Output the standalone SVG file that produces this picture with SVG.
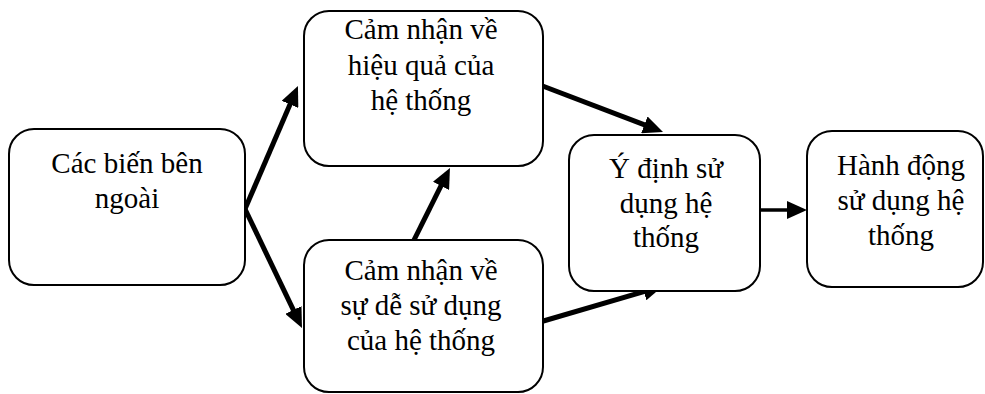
<svg xmlns="http://www.w3.org/2000/svg" width="985" height="394" viewBox="0 0 985 394">
<defs>
<style>
.box{fill:#fff;stroke:#000;stroke-width:2}
.c{stroke:#000;stroke-width:5;fill:none}
.c2{stroke:#000;stroke-width:3.5;fill:none}
</style>
<marker id="ah" markerUnits="userSpaceOnUse" markerWidth="20" markerHeight="18" viewBox="0 0 20 18" refX="8" refY="9" orient="auto">
<path d="M0,0 L20,9 L0,18 z" fill="#000"/>
</marker>
</defs>
<rect width="985" height="394" fill="#fff"/>
<g id="connectors">
<line class="c" marker-end="url(#ah)" x1="245" y1="209" x2="293.2" y2="97.0"/>
<line class="c" marker-end="url(#ah)" x1="245" y1="209" x2="296.8" y2="317.2"/>
<line class="c" marker-end="url(#ah)" x1="414" y1="240" x2="444.6" y2="178.7"/>
<line class="c" marker-end="url(#ah)" x1="540" y1="85" x2="651.8" y2="127.7"/>
<line class="c" marker-end="url(#ah)" x1="540" y1="322" x2="651.5" y2="289.4"/>
<line class="c2" marker-end="url(#ah)" x1="760" y1="210" x2="795" y2="210"/>
</g>
<g id="n1" font-family="Liberation Serif, Times New Roman, serif" font-size="29" text-anchor="middle">
<rect class="box" x="9" y="129" width="236" height="156" rx="25"/>
<text x="127" y="173">Các biến bên</text>
<text x="127" y="208">ngoài</text>
</g>
<g id="n2" font-family="Liberation Serif, Times New Roman, serif" font-size="29" text-anchor="middle">
<rect class="box" x="304" y="11" width="239" height="155" rx="25"/>
<text x="421" y="39">Cảm nhận về</text>
<text x="421" y="75">hiệu quả của</text>
<text x="421" y="110">hệ thống</text>
</g>
<g id="n3" font-family="Liberation Serif, Times New Roman, serif" font-size="29" text-anchor="middle">
<rect class="box" x="304" y="240" width="239" height="152" rx="25"/>
<text x="421" y="280">Cảm nhận về</text>
<text x="421" y="315">sự dễ sử dụng</text>
<text x="421" y="350">của hệ thống</text>
</g>
<g id="n4" font-family="Liberation Serif, Times New Roman, serif" font-size="29" text-anchor="middle">
<rect class="box" x="569" y="135" width="191" height="156" rx="25"/>
<text x="666" y="178">Ý định sử</text>
<text x="666" y="213">dụng hệ</text>
<text x="666" y="247">thống</text>
</g>
<g id="n5" font-family="Liberation Serif, Times New Roman, serif" font-size="29" text-anchor="middle">
<rect class="box" x="807" y="131" width="176" height="156" rx="25"/>
<text x="901" y="175">Hành động</text>
<text x="901" y="210">sử dụng hệ</text>
<text x="901" y="245">thống</text>
</g>
</svg>
